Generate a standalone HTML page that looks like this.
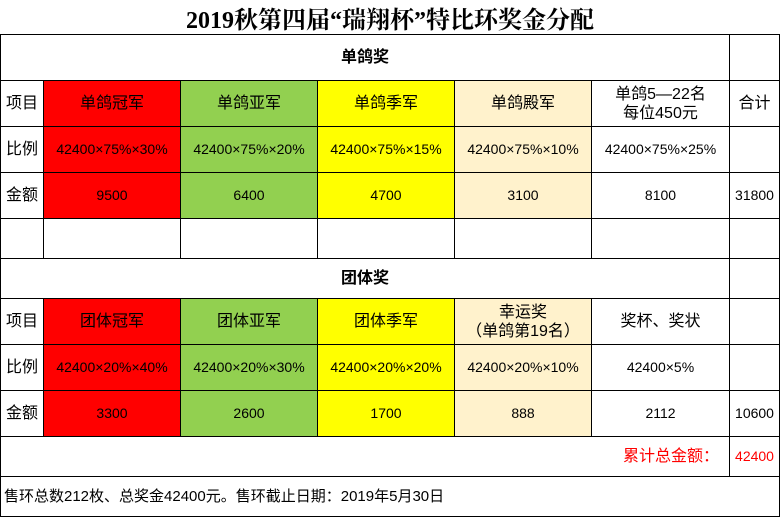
<!DOCTYPE html>
<html><head><meta charset="utf-8">
<style>
body{margin:0;background:#fff;}
#t{position:relative;width:780px;height:517px;overflow:hidden;font-family:"Liberation Sans","Noto Sans CJK SC",sans-serif;font-size:16px;color:#000;}
.c{position:absolute;box-sizing:border-box;border:1px solid #000;display:flex;align-items:center;justify-content:center;text-align:center;line-height:19px;}
.n{font-size:14px;}
.r{background:#FF0000}.g{background:#92D050}.y{background:#FFFF00}.b{background:#FFF2CC}
#title{position:absolute;left:0;top:0;width:780px;height:34px;display:flex;align-items:center;justify-content:center;font-family:"Liberation Serif","Noto Serif CJK SC",serif;font-weight:bold;font-size:24px;}
</style></head><body>
<div id="t">
<div id="title">2019秋第四届“瑞翔杯”特比环奖金分配</div>

<div class="c" style="left:0;top:34px;width:730px;height:47px;font-weight:bold">单鸽奖</div>
<div class="c" style="left:729px;top:34px;width:51px;height:47px"></div>

<div class="c" style="left:0;top:80px;width:44px;height:47px">项目</div>
<div class="c r" style="left:43px;top:80px;width:138px;height:47px">单鸽冠军</div>
<div class="c g" style="left:180px;top:80px;width:138px;height:47px">单鸽亚军</div>
<div class="c y" style="left:317px;top:80px;width:138px;height:47px">单鸽季军</div>
<div class="c b" style="left:454px;top:80px;width:138px;height:47px">单鸽殿军</div>
<div class="c" style="left:591px;top:80px;width:139px;height:47px">单鸽5—22名<br>每位450元</div>
<div class="c" style="left:729px;top:80px;width:51px;height:47px">合计</div>

<div class="c" style="left:0;top:126px;width:44px;height:47px">比例</div>
<div class="c r n" style="left:43px;top:126px;width:138px;height:47px">42400×75%×30%</div>
<div class="c g n" style="left:180px;top:126px;width:138px;height:47px">42400×75%×20%</div>
<div class="c y n" style="left:317px;top:126px;width:138px;height:47px">42400×75%×15%</div>
<div class="c b n" style="left:454px;top:126px;width:138px;height:47px">42400×75%×10%</div>
<div class="c n" style="left:591px;top:126px;width:139px;height:47px">42400×75%×25%</div>
<div class="c" style="left:729px;top:126px;width:51px;height:47px"></div>

<div class="c" style="left:0;top:172px;width:44px;height:47px">金额</div>
<div class="c r n" style="left:43px;top:172px;width:138px;height:47px">9500</div>
<div class="c g n" style="left:180px;top:172px;width:138px;height:47px">6400</div>
<div class="c y n" style="left:317px;top:172px;width:138px;height:47px">4700</div>
<div class="c b n" style="left:454px;top:172px;width:138px;height:47px">3100</div>
<div class="c n" style="left:591px;top:172px;width:139px;height:47px">8100</div>
<div class="c n" style="left:729px;top:172px;width:51px;height:47px">31800</div>

<div class="c" style="left:0;top:218px;width:44px;height:41px"></div>
<div class="c" style="left:43px;top:218px;width:138px;height:41px"></div>
<div class="c" style="left:180px;top:218px;width:138px;height:41px"></div>
<div class="c" style="left:317px;top:218px;width:138px;height:41px"></div>
<div class="c" style="left:454px;top:218px;width:138px;height:41px"></div>
<div class="c" style="left:591px;top:218px;width:139px;height:41px"></div>
<div class="c" style="left:729px;top:218px;width:51px;height:41px"></div>

<div class="c" style="left:0;top:258px;width:730px;height:41px;font-weight:bold">团体奖</div>
<div class="c" style="left:729px;top:258px;width:51px;height:41px"></div>

<div class="c" style="left:0;top:298px;width:44px;height:47px">项目</div>
<div class="c r" style="left:43px;top:298px;width:138px;height:47px">团体冠军</div>
<div class="c g" style="left:180px;top:298px;width:138px;height:47px">团体亚军</div>
<div class="c y" style="left:317px;top:298px;width:138px;height:47px">团体季军</div>
<div class="c b" style="left:454px;top:298px;width:138px;height:47px">幸运奖<br>（单鸽第19名）</div>
<div class="c" style="left:591px;top:298px;width:139px;height:47px">奖杯、奖状</div>
<div class="c" style="left:729px;top:298px;width:51px;height:47px"></div>

<div class="c" style="left:0;top:344px;width:44px;height:47px">比例</div>
<div class="c r n" style="left:43px;top:344px;width:138px;height:47px">42400×20%×40%</div>
<div class="c g n" style="left:180px;top:344px;width:138px;height:47px">42400×20%×30%</div>
<div class="c y n" style="left:317px;top:344px;width:138px;height:47px">42400×20%×20%</div>
<div class="c b n" style="left:454px;top:344px;width:138px;height:47px">42400×20%×10%</div>
<div class="c n" style="left:591px;top:344px;width:139px;height:47px">42400×5%</div>
<div class="c" style="left:729px;top:344px;width:51px;height:47px"></div>

<div class="c" style="left:0;top:390px;width:44px;height:47px">金额</div>
<div class="c r n" style="left:43px;top:390px;width:138px;height:47px">3300</div>
<div class="c g n" style="left:180px;top:390px;width:138px;height:47px">2600</div>
<div class="c y n" style="left:317px;top:390px;width:138px;height:47px">1700</div>
<div class="c b n" style="left:454px;top:390px;width:138px;height:47px">888</div>
<div class="c n" style="left:591px;top:390px;width:139px;height:47px">2112</div>
<div class="c n" style="left:729px;top:390px;width:51px;height:47px">10600</div>

<div class="c" style="left:0;top:436px;width:730px;height:41px;justify-content:flex-end;padding-right:10px;color:#FF0000">累计总金额：</div>
<div class="c n" style="left:729px;top:436px;width:51px;height:41px;color:#FF0000">42400</div>

<div class="c" style="left:0;top:476px;width:780px;height:41px;justify-content:flex-start;padding-left:3px;font-size:15px">售环总数212枚、总奖金42400元。售环截止日期：2019年5月30日</div>
</div>
</body></html>
